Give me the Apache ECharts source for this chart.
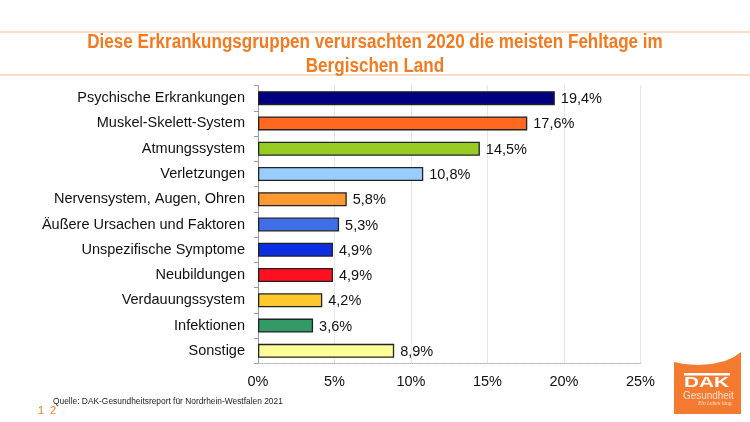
<!DOCTYPE html>
<html>
<head>
<meta charset="utf-8">
<style>
  html, body { margin: 0; padding: 0; background: #fff; }
  #chart { width: 750px; height: 422px; }
</style>
<script src="https://cdn.jsdelivr.net/npm/echarts@6/dist/echarts.min.js"></script>
</head>
<body>
<div id="chart"></div>
<script>
const categories = [
  "Psychische Erkrankungen", "Muskel-Skelett-System", "Atmungssystem", "Verletzungen",
  "Nervensystem, Augen, Ohren", "Äußere Ursachen und Faktoren", "Unspezifische Symptome",
  "Neubildungen", "Verdauungssystem", "Infektionen", "Sonstige"
];
const shares = [19.4, 17.6, 14.5, 10.8, 5.8, 5.3, 4.9, 4.9, 4.2, 3.6, 8.9];
const barColors = [
  "#000080", "#ff6820", "#99cc22", "#99ccff", "#ff9933", "#3f6fe8",
  "#0a2ee0", "#ff0f1f", "#ffc92e", "#339966", "#ffff99"
];
const ORANGE = "#f47a20";
const FONT = "Liberation Sans";

const chart = echarts.init(document.getElementById("chart"), null, { renderer: "canvas" });

chart.setOption({
  animation: false,
  backgroundColor: "#fff",
  grid: { left: 258, right: 109.5, top: 85.5, bottom: 58.5 },
  xAxis: {
    type: "value",
    min: 0,
    max: 25,
    interval: 5,
    axisLine: { show: true, lineStyle: { color: "#b0b0b0", type: "dotted" } },
    axisTick: { show: false },
    axisLabel: {
      formatter: "{value}%",
      fontFamily: FONT,
      fontSize: 14.5,
      color: "#111",
      margin: 11
    },
    splitLine: { show: true, lineStyle: { color: "#d0d0d0", type: "dotted" } }
  },
  yAxis: {
    type: "category",
    inverse: true,
    data: categories,
    axisLine: { show: true, lineStyle: { color: "#999" } },
    axisTick: { show: true, length: 4, lineStyle: { color: "#999" } },
    axisLabel: { fontFamily: FONT, fontSize: 14.5, color: "#111", margin: 13, padding: [2, 0, 0, 0] }
  },
  series: [{
    type: "bar",
    barWidth: 14,
    data: shares.map((value, i) => ({ value, itemStyle: { color: barColors[i] } })),
    itemStyle: { borderColor: "#222", borderWidth: 1.3 },
    label: {
      show: true,
      position: "right",
      distance: 6,
      offset: [0, 1],
      fontFamily: FONT,
      fontSize: 14.5,
      color: "#111",
      formatter: (p) => p.value.toFixed(1).replace(".", ",") + "%"
    }
  }],
  graphic: [
    { type: "line", shape: { x1: 0, y1: 32, x2: 750, y2: 32 }, style: { stroke: "#f9b98a", lineWidth: 1 } },
    { type: "line", shape: { x1: 0, y1: 75, x2: 750, y2: 75 }, style: { stroke: "#f9b98a", lineWidth: 1 } },
    // title is squeezed Arial in the original, no narrow font here so scale it
    {
      type: "text", x: 375, y: 42.5, scaleX: 0.853,
      style: { text: "Diese Erkrankungsgruppen verursachten 2020 die meisten Fehltage im", font: "bold 20px " + FONT, fill: ORANGE, textAlign: "center", textVerticalAlign: "middle" }
    },
    {
      type: "text", x: 375, y: 66, scaleX: 0.853,
      style: { text: "Bergischen Land", font: "bold 20px " + FONT, fill: ORANGE, textAlign: "center", textVerticalAlign: "middle" }
    },
    {
      type: "text", x: 53, y: 398,
      style: { text: "Quelle: DAK-Gesundheitsreport für Nordrhein-Westfalen 2021", font: "8.4px " + FONT, fill: "#222" }
    },
    { type: "text", x: 38, y: 405, style: { text: "1", font: "11px " + FONT, fill: ORANGE } },
    { type: "text", x: 50, y: 405, style: { text: "2", font: "11px " + FONT, fill: ORANGE } },
    // DAK logo block with the curved top edge
    {
      type: "polygon",
      shape: { points: [[674, 362], [684, 364], [698, 365], [712, 364], [725, 361], [734, 357], [741, 352], [741, 414], [674, 414]] },
      style: { fill: "#f47a30" }
    },
    { type: "rect", shape: { x: 684, y: 373, width: 46, height: 2.5 }, style: { fill: "#fff" } },
    {
      type: "text", x: 684, y: 375.5, scaleX: 1.3, scaleY: 0.95,
      style: { text: "DAK", font: "bold 16px " + FONT, fill: "#fff" }
    },
    {
      type: "text", x: 683, y: 390, scaleX: 0.9,
      style: { text: "Gesundheit", font: "11px " + FONT, fill: "#fde3d0" }
    },
    {
      type: "text", x: 698, y: 401,
      style: { text: "Ein Leben lang.", font: "italic 5.5px Liberation Serif", fill: "#fde3d0" }
    }
  ]
});
</script>
</body>
</html>
